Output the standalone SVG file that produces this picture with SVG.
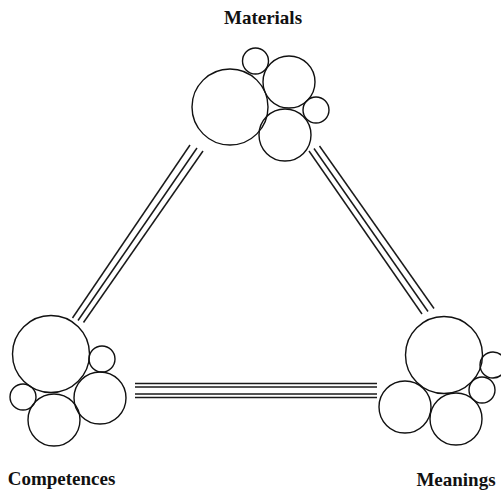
<svg xmlns="http://www.w3.org/2000/svg" width="501" height="490" viewBox="0 0 501 490">
  <style>
    .bub { fill: none; stroke: #111; stroke-width: 1.4; }
    .lnk { stroke: #1a1a1a; stroke-width: 1.5; fill: none; }
    .lbl { font-family: "Liberation Serif", "Times New Roman", serif; font-weight: bold; font-size: 19px; fill: #111; }
  </style>
  <rect width="501" height="490" fill="#fff"/>

  <g id="connectors">
    <!-- Materials to Competences -->
    <line class="lnk" x1="190" y1="145" x2="72.5" y2="318"/>
    <line class="lnk" x1="197" y1="148" x2="78" y2="320.5"/>
    <line class="lnk" x1="203" y1="151" x2="83.5" y2="322.5"/>
    <!-- Materials to Meanings -->
    <line class="lnk" x1="309" y1="151" x2="422" y2="314"/>
    <line class="lnk" x1="314" y1="148.5" x2="428" y2="311.5"/>
    <line class="lnk" x1="319.5" y1="146" x2="434" y2="308.5"/>
    <!-- Competences to Meanings -->
    <line class="lnk" x1="135" y1="383.5" x2="377" y2="383.5"/>
    <line class="lnk" x1="135" y1="387" x2="377" y2="387"/>
    <line class="lnk" x1="135" y1="394" x2="377" y2="394"/>
    <line class="lnk" x1="135" y1="397.5" x2="377" y2="397.5"/>
  </g>

  <g id="materials">
    <text class="lbl" x="263" y="24" text-anchor="middle">Materials</text>
    <circle class="bub" cx="230" cy="107" r="38"/>
    <circle class="bub" cx="255.5" cy="61" r="13"/>
    <circle class="bub" cx="289" cy="82" r="26"/>
    <circle class="bub" cx="316" cy="110" r="13"/>
    <circle class="bub" cx="285" cy="135" r="26"/>
  </g>

  <g id="competences">
    <text class="lbl" x="61.5" y="485" text-anchor="middle">Competences</text>
    <circle class="bub" cx="51" cy="354" r="38.5"/>
    <circle class="bub" cx="102" cy="359" r="13"/>
    <circle class="bub" cx="100" cy="398" r="26"/>
    <circle class="bub" cx="23" cy="397" r="13"/>
    <circle class="bub" cx="54" cy="420" r="26"/>
  </g>

  <g id="meanings">
    <text class="lbl" x="456" y="486" text-anchor="middle">Meanings</text>
    <circle class="bub" cx="444" cy="355" r="38.5"/>
    <circle class="bub" cx="493" cy="365" r="13"/>
    <circle class="bub" cx="482" cy="390" r="13"/>
    <circle class="bub" cx="405" cy="407" r="26"/>
    <circle class="bub" cx="456" cy="419" r="26"/>
  </g>
</svg>
